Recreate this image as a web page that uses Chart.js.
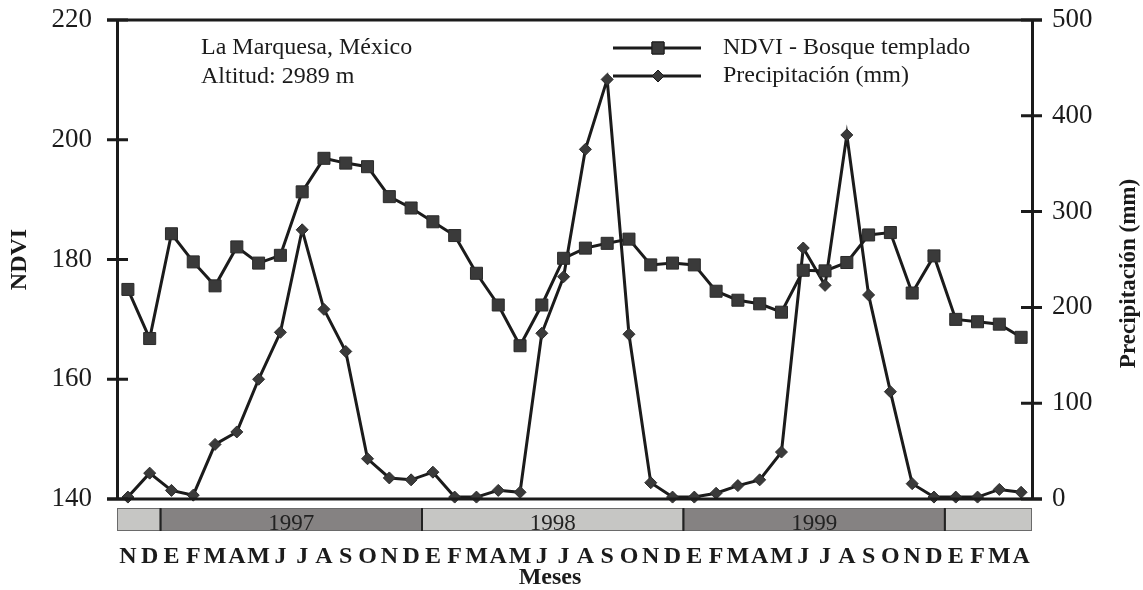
<!DOCTYPE html>
<html lang="es">
  <head>
    <meta charset="UTF-8" />
    <meta name="viewport" content="width=device-width, initial-scale=1.0" />
    <script src="https://cdn.jsdelivr.net/npm/chart.js@4.4.0/dist/chart.umd.min.js"></script>
    <title>NDVI y precipitación - La Marquesa</title>
    <style>
      body { margin: 0; background: #fff; }
      #grafica { width: 1143px; height: 590px; }
    </style>
  </head>
  <body>
    <div id="grafica">
      <canvas id="myChart"></canvas>
    </div>
    <script>
      // meses de nov 1996 a abr 2000
      const meses = [
        "N", "D",
        "E", "F", "M", "A", "M", "J", "J", "A", "S", "O", "N", "D",
        "E", "F", "M", "A", "M", "J", "J", "A", "S", "O", "N", "D",
        "E", "F", "M", "A", "M", "J", "J", "A", "S", "O", "N", "D",
        "E", "F", "M", "A",
      ];

      const ndvi = [
        175.0, 166.8,
        184.3, 179.6, 175.6, 182.1, 179.4, 180.7, 191.3, 196.9, 196.1, 195.5, 190.5, 188.6,
        186.3, 184.0, 177.7, 172.4, 165.6, 172.4, 180.2, 181.9, 182.7, 183.4, 179.1, 179.4,
        179.1, 174.7, 173.2, 172.6, 171.2, 178.2, 178.1, 179.5, 184.1, 184.5, 174.4, 180.6,
        170.0, 169.6, 169.2, 167.0,
      ];

      const precipitacion = [
        2, 27,
        9, 4, 57, 70, 125, 174, 281, 198, 154, 42, 22, 20,
        28, 2, 2, 9, 7, 173, 232, 365, 438, 172, 17, 2,
        2, 6, 14, 20, 49, 262, 223, 380, 213, 112, 16, 2,
        2, 2, 10, 7,
      ];

      // índices de mes donde empieza y termina cada año
      const anios = ["", "1997", "1998", "1999", ""];
      const aniosDesde = [0, 2, 14, 26, 38];
      const aniosHasta = [1, 13, 25, 37, 41];

      const ticksNdvi = [140, 160, 180, 200, 220];
      const ticksPrecip = [0, 100, 200, 300, 400, 500];

      const rotulo = ["La Marquesa, México", "Altitud: 2989 m"];

      const serif = "'Liberation Serif', 'Times New Roman', serif";
      const tinta = "#1b1b1b";
      const relleno = "#3a3a3a";

      const decoracion = {
        id: "decoracion",
        afterDraw(chart) {
          const ctx = chart.ctx;
          const area = chart.chartArea;
          const x = chart.scales.x;
          const y1 = chart.scales.y;
          const y2 = chart.scales.y2;
          const banda = x.getPixelForValue(1) - x.getPixelForValue(0);

          ctx.save();
          ctx.strokeStyle = tinta;
          ctx.lineCap = "butt";

          // marco superior e inferior
          ctx.lineWidth = 3;
          ctx.beginPath();
          ctx.moveTo(area.left - 10, area.top);
          ctx.lineTo(area.right + 10, area.top);
          ctx.moveTo(area.left - 10, area.bottom);
          ctx.lineTo(area.right + 10, area.bottom);
          ctx.stroke();

          // marcas de los ejes, cruzando la línea
          ctx.beginPath();
          y1.ticks.forEach((t) => {
            const py = y1.getPixelForValue(t.value);
            ctx.moveTo(area.left - 10, py);
            ctx.lineTo(area.left + 11, py);
          });
          y2.ticks.forEach((t) => {
            const py = y2.getPixelForValue(t.value);
            ctx.moveTo(area.right - 11, py);
            ctx.lineTo(area.right + 10, py);
          });
          ctx.stroke();

          // barra de años
          const top = area.bottom + 9;
          const alto = 23;
          anios.forEach((txt, i) => {
            const x0 = x.getPixelForValue(aniosDesde[i]) - banda / 2;
            const x1 = x.getPixelForValue(aniosHasta[i]) + banda / 2;
            ctx.fillStyle = i % 2 === 0 ? "#c6c6c4" : "#858282";
            ctx.fillRect(x0, top, x1 - x0, alto);
            ctx.lineWidth = 1;
            ctx.strokeStyle = "#6a6a6a";
            ctx.strokeRect(x0 + 0.5, top + 0.5, x1 - x0 - 1, alto - 1);
            if (txt) {
              ctx.fillStyle = "#222";
              ctx.font = "23px " + serif;
              ctx.textAlign = "center";
              ctx.textBaseline = "alphabetic";
              ctx.fillText(txt, (x0 + x1) / 2, top + alto - 1);
            }
          });
          // separadores oscuros entre años
          ctx.strokeStyle = "#222";
          ctx.lineWidth = 2;
          ctx.beginPath();
          for (let i = 1; i < anios.length; i++) {
            const xs = x.getPixelForValue(aniosDesde[i]) - banda / 2;
            ctx.moveTo(xs, top);
            ctx.lineTo(xs, top + alto);
          }
          ctx.stroke();

          // título del eje x
          ctx.fillStyle = tinta;
          ctx.font = "bold 24px " + serif;
          ctx.textAlign = "center";
          ctx.textBaseline = "middle";
          ctx.fillText("Meses", 550, 578);

          // título del eje derecho, leído de abajo hacia arriba
          ctx.save();
          ctx.translate(1129, (area.top + area.bottom) / 2 + 14);
          ctx.rotate(-Math.PI / 2);
          ctx.font = "bold 23px " + serif;
          ctx.fillText("Precipitación (mm)", 0, 0);
          ctx.restore();

          // rótulo del sitio
          ctx.font = "24px " + serif;
          ctx.textAlign = "left";
          ctx.fillText(rotulo[0], 201, 48);
          ctx.fillText(rotulo[1], 201, 77);

          // leyenda
          const estilos = ["rect", "rectRot"];
          const radios = [8.5, 6];
          chart.data.datasets.forEach((ds, i) => {
            const ly = 48 + i * 28;
            ctx.strokeStyle = tinta;
            ctx.lineWidth = 3;
            ctx.beginPath();
            ctx.moveTo(613, ly);
            ctx.lineTo(701, ly);
            ctx.stroke();
            ctx.fillStyle = relleno;
            ctx.lineWidth = 1;
            Chart.helpers.drawPoint(ctx, { pointStyle: estilos[i], radius: radios[i], borderWidth: 1 }, 658, ly);
            ctx.fill();
            ctx.stroke();
            ctx.fillStyle = tinta;
            ctx.font = "24px " + serif;
            ctx.textAlign = "left";
            ctx.textBaseline = "middle";
            ctx.fillText(ds.label, 723, ly);
          });

          ctx.restore();
        },
      };

      const ctx = document.getElementById("myChart");

      new Chart(ctx, {
        type: "line",
        data: {
          labels: meses,
          datasets: [
            {
              label: "NDVI - Bosque templado",
              data: ndvi,
              yAxisID: "y",
              borderColor: tinta,
              borderWidth: 3,
              pointStyle: "rect",
              pointRadius: 8.5,
              pointBackgroundColor: relleno,
              pointBorderColor: "#2a2a2a",
              pointBorderWidth: 1,
              tension: 0,
              clip: false,
            },
            {
              label: "Precipitación (mm)",
              data: precipitacion,
              yAxisID: "y2",
              borderColor: tinta,
              borderWidth: 3,
              pointStyle: "rectRot",
              pointRadius: 6,
              pointBackgroundColor: relleno,
              pointBorderColor: "#2a2a2a",
              pointBorderWidth: 1,
              tension: 0,
              clip: false,
            },
          ],
        },
        options: {
          responsive: true,
          maintainAspectRatio: false,
          animation: false,
          layout: { padding: { top: 20, left: 0, right: 0, bottom: 0 } },
          plugins: {
            legend: { display: false },
            tooltip: { enabled: false },
          },
          scales: {
            x: {
              offset: true,
              grid: { display: false, drawTicks: false },
              border: { display: false },
              ticks: {
                autoSkip: false,
                maxRotation: 0,
                padding: 43,
                color: tinta,
                font: { family: serif, size: 24, weight: "bold" },
              },
              afterFit(scale) {
                scale.height = 91;
              },
            },
            y: {
              position: "left",
              min: 140,
              max: 220,
              afterBuildTicks(scale) {
                scale.ticks = ticksNdvi.map((v) => ({ value: v }));
              },
              grid: { drawOnChartArea: false, drawTicks: false },
              border: { display: true, width: 3, color: tinta },
              ticks: {
                padding: 25,
                color: tinta,
                font: { family: serif, size: 27 },
              },
              title: {
                display: true,
                text: "NDVI",
                color: tinta,
                font: { family: serif, size: 24, weight: "bold" },
                padding: { top: 5, bottom: 0 },
              },
              afterFit(scale) {
                scale.width = 117;
                scale.paddingTop = 0;
                scale.paddingBottom = 0;
              },
            },
            y2: {
              position: "right",
              min: 0,
              max: 500,
              afterBuildTicks(scale) {
                scale.ticks = ticksPrecip.map((v) => ({ value: v }));
              },
              grid: { drawOnChartArea: false, drawTicks: false },
              border: { display: true, width: 3, color: tinta },
              ticks: {
                padding: 20,
                color: tinta,
                font: { family: serif, size: 27 },
              },
              afterFit(scale) {
                scale.width = 111;
                scale.paddingTop = 0;
                scale.paddingBottom = 0;
              },
            },
          },
        },
        plugins: [decoracion],
      });
    </script>
  </body>
</html>
